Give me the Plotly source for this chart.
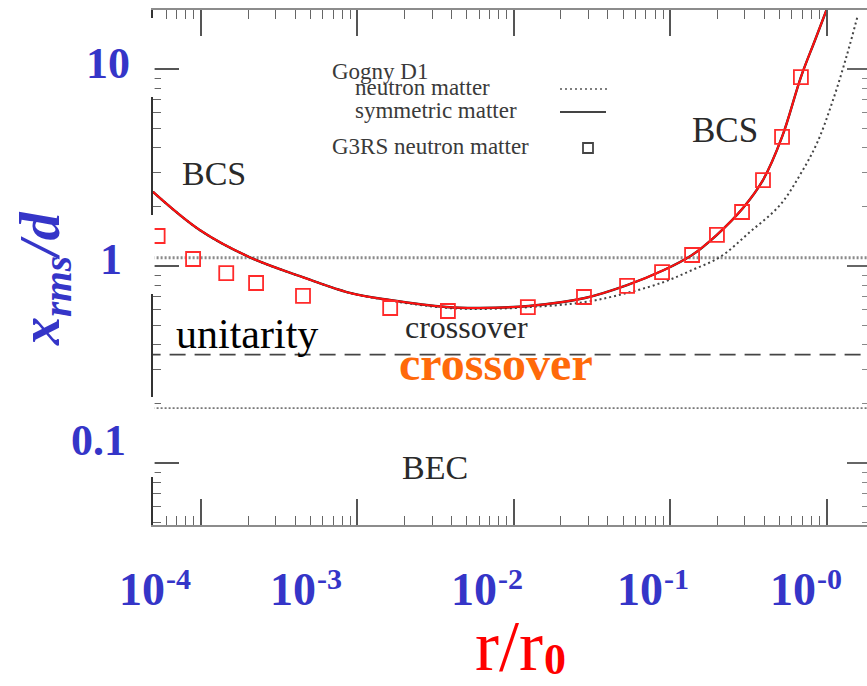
import plotly.graph_objects as go

# ---------------- data ----------------
# Gogny D1, symmetric matter: rms pair size over inter-particle distance
sym_x = [4.93e-5, 9.86e-5, 2.09e-4, 4.43e-4, 8.97e-4, 1.61e-3, 3.69e-3, 6.0e-3,
         1.25e-2, 2.85e-2, 5.30e-2, 9.12e-2, 0.138, 0.199, 0.292, 0.392, 0.519,
         0.685, 0.843, 1.0]
sym_y = [2.38, 1.52, 1.10, 0.88, 0.73, 0.672, 0.619, 0.612,
         0.627, 0.688, 0.80, 0.954, 1.137, 1.44, 1.97, 2.73, 4.52,
         9.1, 14.0, 20.0]

# Gogny D1, neutron matter
neu_x = [4.93e-5, 9.86e-5, 2.09e-4, 4.43e-4, 8.97e-4, 1.61e-3, 3.69e-3, 6.0e-3,
         1.25e-2, 2.85e-2, 5.30e-2, 9.12e-2, 0.138, 0.208, 0.324, 0.504, 0.676,
         0.869, 1.10, 1.35, 1.585]
neu_y = [2.38, 1.52, 1.10, 0.88, 0.73, 0.668, 0.613, 0.605,
         0.618, 0.656, 0.73, 0.83, 0.954, 1.11, 1.49, 2.04, 2.90,
         4.21, 6.97, 11.8, 18.8]

# G3RS neutron matter
g3_x = [5.28e-5, 8.9e-5, 1.45e-4, 2.25e-4, 4.49e-4, 1.62e-3, 3.79e-3, 1.23e-2,
        2.81e-2, 5.30e-2, 8.87e-2, 0.138, 0.199, 0.288, 0.392, 0.519, 0.685]
g3_y = [1.42, 1.085, 0.921, 0.820, 0.705, 0.612, 0.591, 0.619,
        0.696, 0.792, 0.932, 1.137, 1.44, 1.88, 2.73, 4.52, 9.1]

# regime boundaries in x_rms/d
bcs_limit = 1.1
unitary_value = 0.355
bec_limit = 0.19
line_span = [1e-5, 10.0]

# decade labels: mantissa and exponent
x_tick_base = ["10", "10", "10", "10", "10"]
x_tick_exp = ["-4", "-3", "-2", "-1", "-0"]
y_tick_labels = ["10", "1", "0.1"]

# ---------------- layout geometry ----------------
W, H = 867, 686
ML, MR, MT, MB = 153, 0, 10, 161
PW, PH = W - ML - MR, H - MT - MB


def px(xp):
    return (xp - ML) / PW


def py(yp):
    return (H - MB - yp) / PH


SERIF = "Liberation Serif"
BLUE = "#3535c8"
INK = "#2a2a2a"

fig = go.Figure()

# regime boundary lines
fig.add_trace(go.Scatter(x=line_span, y=[bcs_limit] * 2, mode="lines",
                         line=dict(color="#8a8a8a", width=3, dash="2px,2px"),
                         hoverinfo="skip", showlegend=False))
fig.add_trace(go.Scatter(x=line_span, y=[unitary_value] * 2, mode="lines",
                         line=dict(color="#444444", width=1.7, dash="16px,9px"),
                         hoverinfo="skip", showlegend=False))
fig.add_trace(go.Scatter(x=line_span, y=[bec_limit] * 2, mode="lines",
                         line=dict(color="#777777", width=1.8, dash="2px,2px"),
                         hoverinfo="skip", showlegend=False))

# curves
fig.add_trace(go.Scatter(x=neu_x, y=neu_y, mode="lines", line_shape="spline",
                         line=dict(color="#444444", width=2, dash="2px,3px"),
                         name="neutron matter", showlegend=False))
fig.add_trace(go.Scatter(x=sym_x, y=sym_y, mode="lines", line_shape="spline",
                         line=dict(color="#222222", width=2.4),
                         name="symmetric matter", showlegend=False))
fig.add_trace(go.Scatter(x=sym_x, y=sym_y, mode="lines", line_shape="spline",
                         line=dict(color="#ff1010", width=2),
                         hoverinfo="skip", showlegend=False))
fig.add_trace(go.Scatter(x=g3_x, y=g3_y, mode="markers",
                         marker=dict(symbol="square-open", size=14, color="#ff2a2a",
                                     line=dict(width=1.8, color="#ff2a2a")),
                         name="G3RS neutron matter", showlegend=False))

# anchor for the right-hand tick axis
fig.add_trace(go.Scatter(x=[1e-3], y=[1.0], yaxis="y2", mode="markers",
                         marker=dict(opacity=0), hoverinfo="skip", showlegend=False))

x_range = [-4 - (201 - ML) / 156.4, -4 + (W - MR - 201) / 156.4]
y_range = [-(H - MB - 266) / 197.0, (266 - MT) / 197.0]

axis_common = dict(type="log", dtick=1, showgrid=False, zeroline=False,
                   showticklabels=False)

fig.update_layout(
    width=W, height=H,
    margin=dict(l=ML, r=MR, t=MT, b=MB, pad=0),
    paper_bgcolor="white", plot_bgcolor="white",
    showlegend=False,
    xaxis=dict(**axis_common, range=x_range, showline=True, linecolor="#8c8c8c",
               linewidth=2, mirror="ticks", ticks="inside", ticklen=26,
               tickwidth=1.5, tickcolor="#555555",
               minor=dict(ticks="inside", ticklen=9, tickwidth=1.3,
                          tickcolor="#666666", dtick="D1", showgrid=False)),
    yaxis=dict(**axis_common, range=y_range, showline=True, linecolor="#333333",
               linewidth=2, mirror=False, ticks="inside", ticklen=26,
               tickwidth=1.5, tickcolor="#555555",
               minor=dict(ticks="inside", ticklen=8, tickwidth=1.3,
                          tickcolor="#666666", dtick="D1", showgrid=False)),
    yaxis2=dict(**axis_common, range=y_range, overlaying="y", side="right",
                anchor="x", showline=False, ticks="inside", ticklen=20,
                tickwidth=1.5, tickcolor="#666666",
                minor=dict(ticks="inside", ticklen=5, tickwidth=1.3,
                           tickcolor="#888888", dtick="D1", showgrid=False)),
)

shapes = []
# white boxes behind the value labels interrupt the left frame line
for y0, y1 in [(18, 97), (215, 294), (397, 477)]:
    shapes.append(dict(type="rect", xref="paper", yref="paper",
                       x0=px(60), x1=px(154.6), y0=py(y1), y1=py(y0),
                       fillcolor="white", line=dict(width=0), layer="above"))
# legend samples
shapes.append(dict(type="line", xref="paper", yref="paper",
                   x0=px(560), x1=px(608), y0=py(89), y1=py(89),
                   line=dict(color="#555555", width=1.6, dash="2px,3px")))
shapes.append(dict(type="line", xref="paper", yref="paper",
                   x0=px(560), x1=px(606), y0=py(112), y1=py(112),
                   line=dict(color="#444444", width=2)))
shapes.append(dict(type="rect", xref="paper", yref="paper",
                   x0=px(583), x1=px(593), y0=py(153), y1=py(143),
                   line=dict(color="#444444", width=1.8)))

annotations = []


def text(xp, yp, s, size, color=INK, xanchor="center", bold=False, **kw):
    if bold:
        s = "<b>" + s + "</b>"
    annotations.append(dict(xref="paper", yref="paper", x=px(xp), y=py(yp),
                            text=s, showarrow=False, xanchor=xanchor,
                            yanchor="middle",
                            font=dict(family=SERIF, size=size, color=color), **kw))


# legend text
text(330, 71, "Gogny D1", 23, "#3a3a3a", xanchor="left")
text(353, 88, "neutron matter", 23, "#3a3a3a", xanchor="left")
text(353, 110, "symmetric matter", 23, "#3a3a3a", xanchor="left")
text(330, 147, "G3RS neutron matter", 23, "#3a3a3a", xanchor="left")

# regime labels
text(214, 173, "BCS", 34)
text(725, 130, "BCS", 35)
text(435, 467, "BEC", 34)
text(466, 327, "crossover", 32)
text(247, 334, "unitarity", 42, "#000000")
text(496, 363, "crossover", 48, "#ff6a0a", bold=True)

# decade labels under the x axis (mantissa, then raised exponent)
for xp, base, ex in zip([117, 268, 449, 615, 768], x_tick_base, x_tick_exp):
    text(xp, 589, base, 46, BLUE, xanchor="left", bold=True)
    text(xp + 47, 578, ex, 30, BLUE, xanchor="left", bold=True)
for (xp, yp), lab in zip([(108, 64), (111, 259), (98, 440)], y_tick_labels):
    text(xp, yp, lab, 44, BLUE, bold=True)

# axis titles
text(509, 646, "r/r", 72, "#ff0000")
text(555, 660, "0", 44, "#ff0000", bold=True)
text(44, 278, "<b><i>x<sub>rms</sub>/d</i></b>", 56, BLUE, textangle=-90)

fig.update_layout(shapes=shapes, annotations=annotations)

fig.write_html("out.html")
